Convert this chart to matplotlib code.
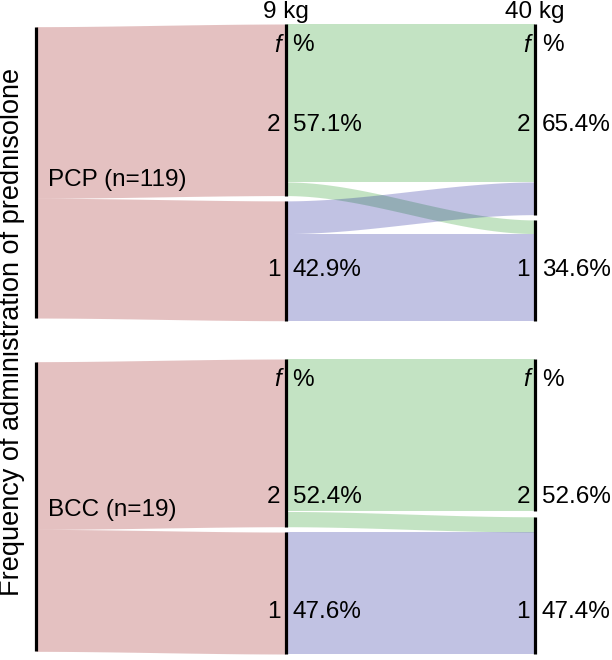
import numpy as np
import matplotlib
matplotlib.use("Agg")
import matplotlib.pyplot as plt
from matplotlib import transforms

plt.rcParams['font.family'] = ['Liberation Sans', 'DejaVu Sans']

# ---------------- data ----------------
panel_labels = ["PCP (n=119)", "BCC (n=19)"]
time_labels = ["9 kg", "40 kg"]
strata = ["2", "1"]
# flows from 9 kg stratum (rows: 2, 1) to 40 kg stratum (cols: 2, 1)
pcp_flows = [[58, 5], [12, 32]]
bcc_flows = [[10, 1], [0, 8]]
pcp_pct_9 = ["57.1%", "42.9%"]
pcp_pct_40 = ["65.4%", "34.6%"]
bcc_pct_9 = ["52.4%", "47.6%"]
bcc_pct_40 = ["52.6%", "47.4%"]

# ---------------- style ----------------
RED = (151/255, 11/255, 11/255)
GREEN = (19/255, 147/255, 19/255)
BLUE = (11/255, 15/255, 147/255)
ALPHA = 0.25
FS = 17.5
W, H = 612, 660

fig = plt.figure(figsize=(W/100, H/100), dpi=100)

def sig(t):
    return 3*t**2 - 2*t**3

def flow(ax, x0, x1, t0, b0, t1, b1, color):
    x = np.linspace(x0, x1, 120)
    s = sig((x - x0) / (x1 - x0))
    top = t0 + (t1 - t0) * s
    bot = b0 + (b1 - b0) * s
    ax.fill_between(x, top, bot, color=color, alpha=ALPHA, lw=0)

panels = [
    (pcp_flows, pcp_pct_9, pcp_pct_40, 24, 320.7, [0.071, 0.34, 0.83], 0.526),
    (bcc_flows, bcc_pct_9, bcc_pct_40, 359, 654, [0.071, 0.468, 0.858], 0.512),
]

xl, xr = 36, 535
px = 2.0 / (xr - xl)

for pi, (flows, p9, p40, ytop, ybot, rows, lab_y) in enumerate(panels):
    fl = np.array(flows, dtype=float)
    total = fl.sum()
    gap = 5.3 / (ybot - ytop - 5.3) * total
    ax = fig.add_axes([xl/W, 1 - ybot/H, (xr - xl)/W, (ybot - ytop)/H])
    ax.set_xlim(0, 2)
    ax.set_ylim(total + gap, 0)
    ax.axis('off')

    n9 = fl.sum(axis=1)
    n40 = fl.sum(axis=0)
    s9 = [0, n9[0] + gap]
    s40 = [0, n40[0] + gap]

    # left -> 9 kg (red)
    lt = gap / 2
    for i in range(2):
        if n9[i] <= 0:
            continue
        flow(ax, 0, 1, lt, lt + n9[i], s9[i], s9[i] + n9[i], RED)
        lt += n9[i]

    # 9 kg -> 40 kg
    out_pos = [s9[0], s9[1]]
    in_pos = [s40[0], s40[1]]
    segs = {}
    for i in range(2):
        for j in range(2):
            segs[(i, j)] = out_pos[i]
            out_pos[i] += fl[i, j]
    in_segs = {}
    for j in range(2):
        for i in range(2):
            in_segs[(i, j)] = in_pos[j]
            in_pos[j] += fl[i, j]
    for i, col in [(0, GREEN), (1, BLUE)]:
        for j in range(2):
            v = fl[i, j]
            if v <= 0:
                continue
            a = segs[(i, j)]
            b = in_segs[(i, j)]
            flow(ax, 1, 2, a, a + v, b, b + v, col)

    # axis lines
    lw = 2.3
    ax.plot([0, 0], [gap/2, gap/2 + total], color='black', lw=lw, solid_capstyle='butt', clip_on=False)
    for i in range(2):
        ax.plot([1, 1], [s9[i], s9[i] + n9[i]], color='black', lw=lw, solid_capstyle='butt', clip_on=False)
        ax.plot([2, 2], [s40[i], s40[i] + n40[i]], color='black', lw=lw, solid_capstyle='butt', clip_on=False)

    tr = transforms.blended_transform_factory(ax.transData, ax.transAxes)
    for xa in (1, 2):
        ax.text(xa - 5*px, 1 - rows[0], "f", style='italic', ha='right', va='center',
                fontsize=FS, transform=tr, clip_on=False)
        ax.text(xa + 7*px, 1 - rows[0], "%", ha='left', va='center',
                fontsize=FS, transform=tr, clip_on=False)
        pcts = p9 if xa == 1 else p40
        for k in range(2):
            ax.text(xa - 5*px, 1 - rows[k + 1], strata[k], ha='right', va='center',
                    fontsize=FS, transform=tr, clip_on=False)
            ax.text(xa + 7*px, 1 - rows[k + 1], pcts[k], ha='left', va='center',
                    fontsize=FS, transform=tr, clip_on=False)
    ax.text(12*px, 1 - lab_y, panel_labels[pi], ha='left', va='center',
            fontsize=FS, transform=tr, clip_on=False)
    if pi == 0:
        for xa, t in zip((1, 2), time_labels):
            ax.text(xa, 1 + 12/(ybot - ytop), t, ha='center', va='center',
                    fontsize=FS, transform=tr, clip_on=False)

fig.text(12/W, 1 - 332/H, "Frequency of administration of prednisolone",
         rotation=90, ha='center', va='center', fontsize=19.5)

fig.savefig("out.png", dpi=100)
